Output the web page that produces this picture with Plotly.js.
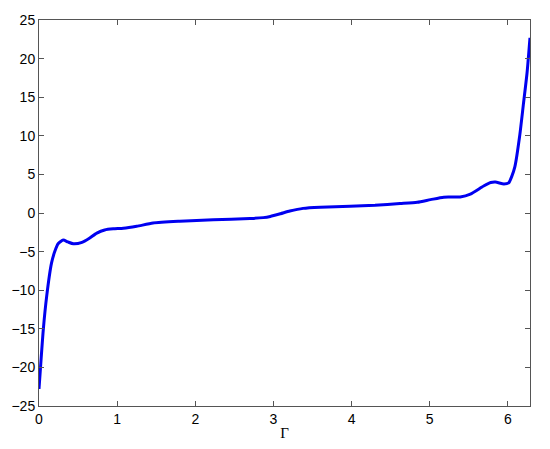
<!DOCTYPE html>
<html>
<head>
<meta charset="utf-8">
<script src="https://cdn.plot.ly/plotly-3.0.1.min.js"></script>
<style>html,body{margin:0;padding:0;background:#fff;}#chart{width:550px;height:449px;}</style>
</head>
<body>
<div id="chart"></div>
<script>
const gammaValues = [0, 0.055, 0.098, 0.16, 0.205, 0.247, 0.31, 0.37, 0.44, 0.55, 0.64, 0.74, 0.84, 0.95, 1.08, 1.25, 1.46, 1.8, 2.23, 2.7, 2.87, 2.96, 3.09, 3.21, 3.38, 3.6, 3.98, 4.3, 4.62, 4.84, 5.01, 5.18, 5.39, 5.52, 5.69, 5.78, 5.84, 5.95, 6.01, 6.05, 6.09, 6.15, 6.20, 6.245, 6.283];
const seriesValues = [-22.8, -15.1, -10.8, -6.5, -4.9, -3.96, -3.5, -3.75, -3.98, -3.8, -3.3, -2.6, -2.2, -2.05, -1.98, -1.72, -1.3, -1.07, -0.88, -0.72, -0.6, -0.45, -0.1, 0.25, 0.6, 0.75, 0.87, 1.0, 1.22, 1.39, 1.73, 2.05, 2.08, 2.45, 3.5, 3.95, 4.02, 3.75, 3.9, 4.75, 6.0, 9.9, 14.2, 18.1, 22.7];
const xTicks = [0, 1, 2, 3, 4, 5, 6];
const yTicks = [-25, -20, -15, -10, -5, 0, 5, 10, 15, 20, 25];

const trace = {
  x: gammaValues, y: seriesValues, type: 'scatter', mode: 'lines',
  line: {color: '#0000f0', width: 3, shape: 'spline', smoothing: 0.6},
  hoverinfo: 'skip'
};
const axisCommon = {
  showgrid: false, zeroline: false, showline: true, mirror: 'allticks',
  linecolor: '#555', linewidth: 1, ticks: 'inside', ticklen: 5, tickcolor: '#555',
  tickfont: {family: 'Liberation Sans, Arial, sans-serif', size: 14, color: '#000'}
};
const layout = {
  width: 550, height: 449,
  margin: {l: 39, r: 20, t: 20, b: 43},
  paper_bgcolor: '#fff', plot_bgcolor: '#fff',
  showlegend: false,
  xaxis: Object.assign({}, axisCommon, {
    range: [0, 6.2832], tickvals: xTicks, ticktext: xTicks.map(String),
    title: {text: 'Γ', font: {family: 'Liberation Serif, Times New Roman, serif', size: 15, color: '#000'}, standoff: 1}
  }),
  yaxis: Object.assign({}, axisCommon, {
    range: [-25, 25], tickvals: yTicks, ticktext: yTicks.map(v => v < 0 ? '\u2212' + Math.abs(v) : String(v))
  })
};
Plotly.newPlot('chart', [trace], layout, {displayModeBar: false, staticPlot: true});
</script>
</body>
</html>
